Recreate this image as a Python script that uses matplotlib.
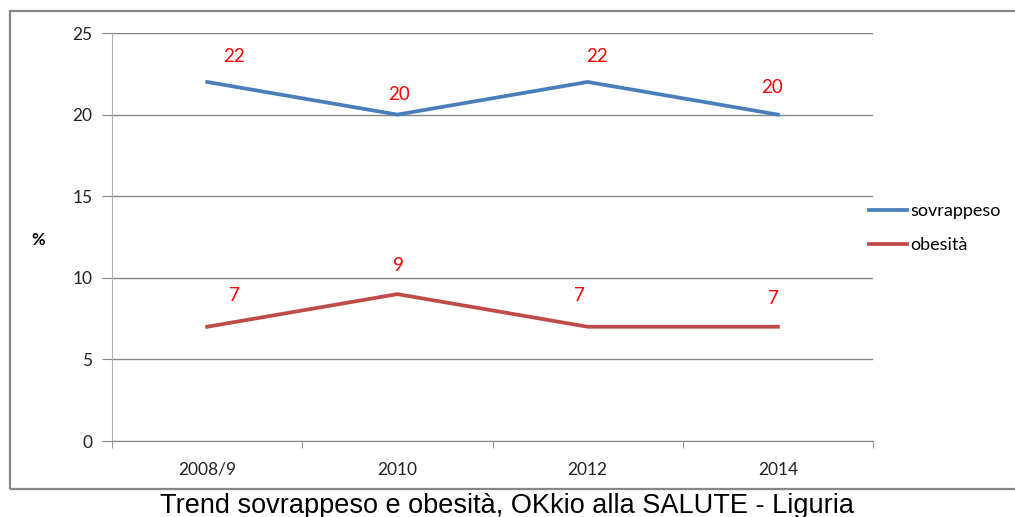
import matplotlib
matplotlib.use("Agg")
from matplotlib import pyplot as plt
from matplotlib.patches import Rectangle

anni = ["2008/9", "2010", "2012", "2014"]
sovrappeso = [22, 20, 22, 20]
obesita = [7, 9, 7, 7]

# spostamento delle etichette in pixel (come nell'originale)
offs_sovr = [(27, 25), (2, 20), (9, 25), (-6, 27)]
offs_obes = [(27, 31), (1, 29), (-8, 31), (-4, 28)]

plt.rcParams['font.family'] = ['Lato', 'DejaVu Sans']

fig = plt.figure(figsize=(10.15, 5.17), dpi=100)
ax = fig.add_axes([112 / 1015, 1 - 441 / 517, 761 / 1015, 408 / 517])

x = list(range(len(anni)))
ax.plot(x, sovrappeso, color='#4A7EBB', lw=2.7, label='sovrappeso', solid_joinstyle='miter')
ax.plot(x, obesita, color='#BE4B48', lw=2.7, label='obesità', solid_joinstyle='miter')

for i in range(len(x)):
    ax.annotate(str(sovrappeso[i]), (x[i], sovrappeso[i]), xytext=offs_sovr[i],
                textcoords='offset pixels', ha='center', va='center', color='#FF0000', fontsize=13.5)
    ax.annotate(str(obesita[i]), (x[i], obesita[i]), xytext=offs_obes[i],
                textcoords='offset pixels', ha='center', va='center', color='#FF0000', fontsize=13.5)

ax.set_xlim(-0.5, len(anni) - 0.5)
ax.set_ylim(0, 25)
ax.set_yticks(range(0, 26, 5))
ax.set_xticks(x)
ax.set_xticklabels(anni)
ax.set_xticks([i - 0.5 for i in range(len(anni) + 1)], minor=True)

ax.grid(axis='y', color='#868686', lw=1)
ax.set_axisbelow(True)
for s in ['top', 'right']:
    ax.spines[s].set_visible(False)
ax.spines['left'].set_color('#B0B0B0')
ax.spines['bottom'].set_color('#868686')
ax.tick_params(axis='y', length=7, color='#868686', labelsize=12.5, pad=7, labelcolor='#222222')
ax.tick_params(axis='x', which='major', length=0, labelsize=12.5, pad=15, labelcolor='#222222')
ax.tick_params(axis='x', which='minor', length=5, color='#868686')

fig.text(38 / 1015, 1 - 240 / 517, '%', fontsize=12, fontweight='bold', ha='center', va='center')

leg = fig.legend(loc='center left', bbox_to_anchor=(853 / 1015, 1 - 228 / 517), frameon=False,
                 fontsize=13, handlelength=2.1, handletextpad=0.15, labelspacing=1.0)

# cornice esterna
fig.patches.append(Rectangle((10 / 1015, 1 - 489 / 517), 1.1, 478 / 517, transform=fig.transFigure,
                             fill=False, edgecolor='#868686', lw=1.6, clip_on=False))

fig.text(507 / 1015, 1 - 506 / 517, 'Trend sovrappeso e obesità, OKkio alla SALUTE - Liguria',
         fontsize=19.5, family='Liberation Sans', ha='center', va='center')

fig.savefig('out.png', dpi=100)
